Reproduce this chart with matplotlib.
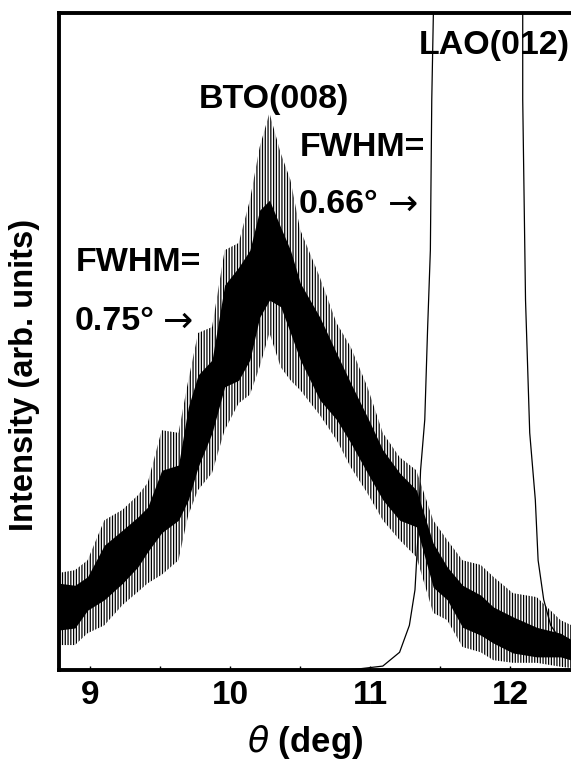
import numpy as np
import matplotlib
matplotlib.use("Agg")
import matplotlib.pyplot as plt

plt.rcParams['font.family'] = ['Liberation Sans', 'DejaVu Sans']
plt.rcParams['hatch.linewidth'] = 0.9

# BTO(008) rocking curve, read off the picture as a noisy band:
# outer spike envelope (spk_hi / spk_lo) and dense core (core_hi / core_lo)
bto_theta = [8.78, 8.89, 8.98, 9.10, 9.23, 9.34, 9.41, 9.51, 9.63, 9.70,
             9.77, 9.87, 9.96, 10.06, 10.14, 10.21, 10.28, 10.36, 10.43, 10.50,
             10.64, 10.76, 10.86, 10.98, 11.09, 11.21, 11.33, 11.45, 11.55, 11.66,
             11.79, 11.88, 12.02, 12.19, 12.36, 12.44]
spk_hi = [14.8, 15.2, 16.7, 22.8, 24.4, 26.6, 28.5, 36.5, 36.1, 44.1,
          51.3, 52.2, 63.9, 65.0, 71.5, 79.6, 84.8, 78.7, 74.6, 67.0,
          59.8, 52.8, 49.2, 43.1, 36.1, 32.4, 30.4, 22.8, 19.8, 16.7,
          16.0, 14.2, 11.7, 11.1, 7.6, 6.8]
core_hi = [13.2, 12.9, 14.2, 19.0, 21.3, 23.3, 24.8, 30.4, 31.2, 40.0,
           44.9, 47.2, 58.6, 61.3, 63.9, 70.0, 71.5, 67.4, 63.9, 58.9,
           53.7, 48.2, 43.7, 38.5, 33.5, 30.0, 27.4, 19.3, 15.7, 12.9,
           11.4, 9.6, 8.1, 6.5, 5.6, 4.6]
core_lo = [6.1, 6.4, 9.1, 10.7, 13.2, 15.7, 18.0, 20.9, 22.8, 25.9,
           30.9, 36.1, 43.1, 44.1, 47.2, 53.7, 56.3, 55.3, 51.3, 47.2,
           41.1, 38.1, 34.6, 30.0, 25.9, 22.8, 21.8, 12.6, 10.7, 6.5,
           5.3, 4.1, 2.6, 2.0, 2.0, 1.5]
spk_lo = [3.8, 3.8, 5.6, 6.8, 9.9, 11.9, 13.2, 14.5, 16.7, 23.6,
          27.4, 30.0, 36.5, 40.6, 41.9, 46.1, 51.3, 46.1, 44.1, 42.6,
          38.8, 35.0, 30.9, 26.9, 22.8, 19.8, 17.2, 8.7, 7.6, 3.5,
          2.7, 1.5, 1.1, 1.1, 0.5, 0.3]

# LAO(012) substrate peak (goes off scale at the top)
lao_theta = [10.78, 10.91, 11.09, 11.21, 11.28, 11.32, 11.34, 11.36, 11.39, 11.41,
             11.43, 11.44, 11.46, 11.77, 12.07, 12.09, 12.09, 12.11, 12.14, 12.18,
             12.20, 12.24, 12.29, 12.36, 12.44]
lao_int = [0.0, 0.15, 0.6, 2.7, 6.8, 12.2, 19.8, 30.4, 38.1, 51.8,
           63.9, 86.8, 109.6, 300.0, 109.6, 100.0, 86.8, 56.3, 36.1, 25.9,
           16.7, 10.7, 6.8, 4.6, 3.0]

xticks = [9, 10, 11, 12]

fig = plt.figure(figsize=(5.71, 7.64), dpi=100)
ax = fig.add_axes([0.1033, 0.123, 0.8967, 0.860])

ax.fill_between(bto_theta, spk_lo, spk_hi, facecolor='white', edgecolor='black',
                hatch='||||||', linewidth=0)
ax.fill_between(bto_theta, core_lo, core_hi, color='black', linewidth=0)
ax.plot(lao_theta, lao_int, color='black', linewidth=0.9)

ax.set_xlim(8.776, 12.435)
ax.set_ylim(0, 100)
ax.set_xticks(xticks)
ax.set_xticks(np.arange(9.0, 12.5, 0.5), minor=True)
ax.set_yticks([])
ax.tick_params(axis='x', which='both', direction='in', length=3, width=1, pad=7)
for lab in ax.get_xticklabels():
    lab.set_fontsize(24)
    lab.set_fontweight('bold')

for side in ['left', 'bottom', 'top']:
    ax.spines[side].set_linewidth(2.8)
ax.spines['right'].set_visible(False)

txt = dict(fontsize=24.5, fontweight='bold', transform=ax.transAxes, va='center')
arw = dict(fontsize=26, family='DejaVu Sans', transform=ax.transAxes, va='center')
ax.text(0.420, 0.868, 'BTO(008)', ha='center', **txt)
ax.text(0.851, 0.951, 'LAO(012)', ha='center', **txt)
ax.text(0.471, 0.796, 'FWHM=', ha='left', **txt)
ax.text(0.469, 0.708, '0.66°', ha='left', **txt)
ax.text(0.643, 0.708, '→', ha='left', **arw)
ax.text(0.033, 0.621, 'FWHM=', ha='left', **txt)
ax.text(0.031, 0.530, '0.75°', ha='left', **txt)
ax.text(0.203, 0.530, '→', ha='left', **arw)

fig.text(25 / 571, 1 - 375 / 764, 'Intensity (arb. units)', rotation=90,
         fontsize=23.5, fontweight='bold', ha='center', va='center')
fig.text(305 / 571, 1 - 742 / 764, r'$\theta$ (deg)', fontsize=25,
         fontweight='bold', ha='center', va='center')

fig.savefig('out.png', dpi=100)
